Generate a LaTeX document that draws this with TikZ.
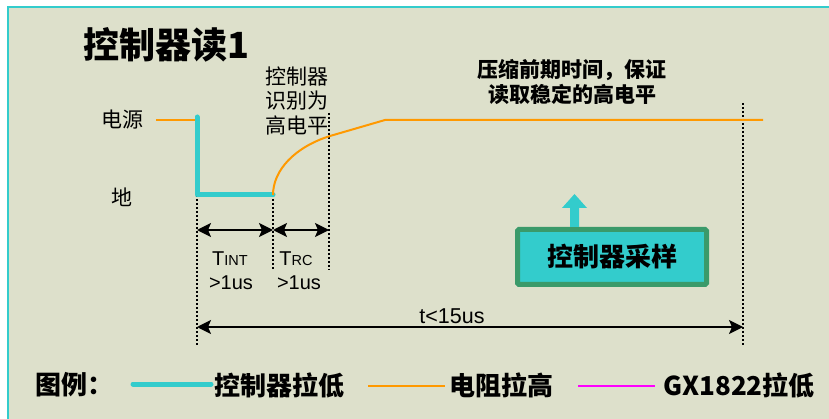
\documentclass[tikz,border=0pt]{standalone}
\usepackage{fontspec}
\setmainfont{Liberation Sans}
\newfontfamily\cjk{Noto Sans CJK SC}
\usetikzlibrary{arrows.meta}
\definecolor{bg}{HTML}{DDE0CB}
\definecolor{cy}{HTML}{33CCCC}
\definecolor{og}{HTML}{FF9900}
\definecolor{mg}{HTML}{FF00FF}
\definecolor{gb}{HTML}{3A9A6A}
\begin{document}
\begin{tikzpicture}[x=1pt,y=-1pt,
  lbl/.style={font=\cjk\fontsize{21}{24.5}\selectfont, align=center, inner sep=0pt},
  boldlbl/.style={font=\cjk\bfseries\fontsize{21}{25}\selectfont, align=center, inner sep=0pt},
  leg/.style={font=\cjk\bfseries\fontsize{26}{28}\selectfont, anchor=west, inner sep=0pt},
  num/.style={font=\fontsize{20}{22}\selectfont, inner sep=0pt},
  guide/.style={black, line width=1.4pt, dash pattern=on 2pt off 2pt},
  dim/.style={black, line width=1.6pt, {Stealth[length=14pt,width=14pt,inset=3pt]}-{Stealth[length=14pt,width=14pt,inset=3pt]}},
  ctrl/.style={cy, line width=5pt, line cap=round, line join=round},
  pull/.style={og, line width=2pt},
  sample/.style={draw=gb, line width=5pt, fill=cy, minimum width=189pt, minimum height=55pt, rounded corners=1.5pt, font=\cjk\bfseries\fontsize{26}{28}\selectfont, inner sep=0pt}
]
\useasboundingbox (0,0) rectangle (829,419);
\fill[white] (0,0) rectangle (829,419);
\fill[bg] (8,7) rectangle (829,419);
\draw[cy, line width=2.5pt] (8,419) -- (8,7) -- (829,7);

% texts
\node[font=\cjk\bfseries\fontsize{36}{40}\selectfont, inner sep=0pt] (title) at (166,45) {控制器读1};
\node[lbl] (vcc) at (122,120) {电源};
\node[lbl] (gnd) at (122,197) {地};
\node[lbl] (recog) at (297,101) {控制器\\识别为\\高电平};
\node[boldlbl] (note) at (572,82) {压缩前期时间，保证\\读取稳定的高电平};

% waveform coordinates
\coordinate (o1) at (156,120);
\coordinate (o2) at (197,120);
\coordinate (c1) at (197,117);
\coordinate (c2) at (197,195);
\coordinate (c3) at (273,195);
\coordinate (r1) at (330,136);
\coordinate (r2) at (385,120);
\coordinate (r3) at (763,120);

% guides
\coordinate (g1a) at (197,195); \coordinate (g1b) at (197,345);
\coordinate (g2a) at (273,195); \coordinate (g2b) at (273,270);
\coordinate (g3a) at (329,113); \coordinate (g3b) at (329,270);
\coordinate (g4a) at (743,103); \coordinate (g4b) at (743,346);
\draw[guide] (g1a) -- (g1b);
\draw[guide] (g2a) -- (g2b);
\draw[guide] (g3a) -- (g3b);
\draw[guide] (g4a) -- (g4b);

\draw[pull] (o1) -- (o2);
\draw[ctrl] (c1) -- (c2) -- (c3);
\draw[pull] (c3) .. controls (273,170) and (295,147) .. (r1) -- (r2) -- (r3);

% dimensions
\coordinate (a1) at (197,230);
\coordinate (a2) at (273,230);
\coordinate (a3) at (329,230);
\coordinate (b1) at (197,327);
\coordinate (b2) at (743,327);
\draw[dim] (a1) -- (a2);
\draw[dim] (a2) -- (a3);
\draw[dim] (b1) -- (b2);
\node[num] (tint) at (230,259) {T{\fontsize{14.5}{16}\selectfont INT}};
\node[num] (tint2) at (231,283) {>1us};
\node[num] (trc) at (296,259) {T{\fontsize{14.5}{16}\selectfont RC}};
\node[num] (trc2) at (299,283) {>1us};
\node[num, font=\fontsize{21.5}{23}\selectfont] (tot) at (452,316) {t<15us};

% sample box and arrow
\node[sample] (box) at (612,257) {控制器采样};
\fill[cy] (box.north -| 570,0) -- (570,208) -- (562,208) -- (574.5,194) -- (587,208) -- (579,208) -- (box.north -| 579,0) -- cycle;

% legend
\node[leg] (legt) at (35,385) {图例：};
\coordinate (l1a) at (133,384); \coordinate (l1b) at (211,384);
\draw[ctrl] (l1a) -- (l1b);
\node[leg] (leg1) at (214,385) {控制器拉低};
\coordinate (l2a) at (368,386); \coordinate (l2b) at (445,386);
\draw[og, line width=2.5pt] (l2a) -- (l2b);
\node[leg] (leg2) at (449,385) {电阻拉高};
\coordinate (l3a) at (578,386); \coordinate (l3b) at (655,386);
\draw[mg, line width=2pt] (l3a) -- (l3b);
\node[leg] (leg3) at (663,385) {GX1822拉低};
\end{tikzpicture}
\end{document}
